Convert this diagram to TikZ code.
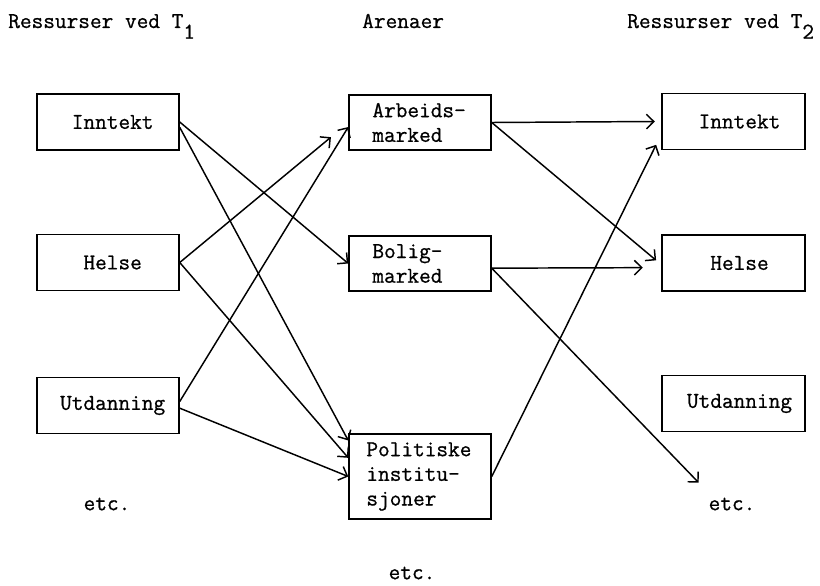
\documentclass[tikz,border=0pt]{standalone}
\usepackage{fontspec}
\setmonofont{Latin Modern Mono}[FakeBold=0.8]
\usetikzlibrary{arrows.meta}
\begin{document}
\begin{tikzpicture}[x=0.75pt,y=-0.75pt,
  every node/.style={font=\fontsize{17}{18.5}\selectfont\ttfamily},
  box/.style={draw, line width=1.1pt, minimum width=106.5pt, minimum height=42pt, inner sep=0pt},
  arena/.style={box, align=left, text width=#1},
  arr/.style={line width=1.1pt, -{Straight Barb[length=5.5pt,width=11pt,line width=1.1pt]}}]
\useasboundingbox (0,0) rectangle (820,585);
% headings
\node[anchor=base west, inner sep=0pt] (h1) at (8,28) {Ressurser ved T\raisebox{-8pt}{1}};
\node[anchor=base west, inner sep=0pt] (h2) at (362,28) {Arenaer};
\node[anchor=base west, inner sep=0pt] (h3) at (627,28) {Ressurser ved T\raisebox{-8pt}{2}};
% left column
\node[box] (inL) at (108,122) {\hspace*{7pt}Inntekt};
\node[box] (heL) at (108,262.5) {\hspace*{7pt}Helse};
\node[box] (utL) at (108,405.5) {\hspace*{7pt}Utdanning};
\node (etcL) at (107,504) {etc.};
% arenas
\node[arena=71.4pt, minimum height=41pt] (arb) at (420,122.5) {Arbeids-\\marked};
\node[arena=71.4pt, minimum height=41pt] (bol) at (420,263.5) {Bolig-\\marked};
\node[arena=80.4pt, minimum height=64pt] (pol) at (420,476.5) {Politiske\\institu-\\sjoner};
\node (etcB) at (412,573) {etc.};
% right column
\node[box, minimum width=107pt] (inR) at (733.5,121.5) {\hspace*{9pt}Inntekt};
\node[box, minimum width=107pt] (heR) at (733.5,263) {\hspace*{9pt}Helse};
\node[box, minimum width=107pt] (utR) at (733.5,403.5) {\hspace*{9pt}Utdanning};
\node (etcR) at (732,504) {etc.};
% arrows left -> arenas
\draw[arr] (inL.east) -- (bol.west);
\draw[arr] ([yshift=-4pt]inL.east) -- ([yshift=27pt]pol.west);
\draw[arr] (heL.east) -- ([xshift=-13pt,yshift=-11pt]arb.west);
\draw[arr] (heL.east) -- ([yshift=14pt]pol.west);
\draw[arr] ([yshift=3pt]utL.east) -- ([yshift=-3.4pt]arb.west);
\draw[arr] ([yshift=-2pt]utL.east) -- (pol.west);
% arrows arenas -> right
\draw[arr] (arb.east) -- ([xshift=-5pt]inR.west);
\draw[arr] (arb.east) -- ([xshift=-4pt,yshift=2pt]heR.west);
\draw[arr] ([yshift=-3.5pt]bol.east) -- ([xshift=-14pt,yshift=-3.5pt]heR.west);
\draw[arr] ([yshift=-3.5pt]bol.east) -- ([xshift=-25pt,yshift=16pt]etcR.center);
\draw[arr] (pol.east) -- ([xshift=-4pt,yshift=-17.5pt]inR.west);
\end{tikzpicture}
\end{document}
